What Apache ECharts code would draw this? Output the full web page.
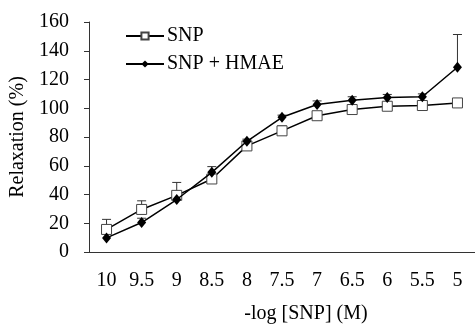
<!DOCTYPE html>
<html>
<head>
<meta charset="utf-8">
<script src="https://cdn.jsdelivr.net/npm/echarts@6/dist/echarts.min.js"></script>
<style>
  html, body { margin: 0; padding: 0; background: #fff; }
  #chart { width: 475px; height: 329px; }
</style>
</head>
<body>
<div id="chart"></div>
<script>
// -log[SNP] categories and mean relaxation (%) with upper SEM
const categories = ['10', '9.5', '9', '8.5', '8', '7.5', '7', '6.5', '6', '5.5', '5'];
const snp = [15.7, 29.6, 39.4, 50.8, 73.8, 84.3, 94.8, 99.1, 101.4, 101.9, 103.7];
const snpErr = [7, 6, 9, 0, 0, 3.4, 2, 3, 2.5, 0, 0];
const snpHmae = [9.8, 20.5, 36.5, 55.4, 77.0, 93.7, 102.6, 105.5, 107.4, 108, 128.5];
const snpHmaeErr = [0, 3, 0, 4, 1.5, 1.5, 2.5, 2.5, 2.2, 2, 22.8];

const font = 'Liberation Serif';
const ink = '#000';

function errorSeries(name, vals, errs) {
  return {
    type: 'custom',
    name: name + ' err',
    silent: true,
    z: 1,
    data: vals.map((v, i) => [i, v, v + errs[i]]),
    renderItem: function (params, api) {
      if (api.value(2) <= api.value(1)) return null;
      const lo = api.coord([api.value(0), api.value(1)]);
      const hi = api.coord([api.value(0), api.value(2)]);
      const style = { stroke: '#333', lineWidth: 1 };
      return {
        type: 'group',
        children: [
          { type: 'line', shape: { x1: lo[0], y1: lo[1], x2: hi[0], y2: hi[1] }, style: style },
          { type: 'line', shape: { x1: hi[0] - 4.5, y1: hi[1], x2: hi[0] + 4.5, y2: hi[1] }, style: style }
        ]
      };
    }
  };
}

const chart = echarts.init(document.getElementById('chart'));
chart.setOption({
  animation: false,
  backgroundColor: '#fff',
  textStyle: { fontFamily: font, color: ink },
  grid: { left: 89, right: 0, top: 22, bottom: 73 },
  legend: {
    orient: 'vertical',
    left: 125,
    top: 26,
    padding: 0,
    itemWidth: 38,
    itemHeight: 9,
    itemGap: 8,
    data: ['SNP', 'SNP + HMAE'],
    textStyle: { fontFamily: font, fontSize: 20, color: ink, padding: [0, 0, 0, -2] }
  },
  xAxis: {
    type: 'category',
    data: categories,
    boundaryGap: true,
    name: '-log [SNP] (M)',
    nameLocation: 'middle',
    nameGap: 52,
    nameTextStyle: { fontFamily: font, fontSize: 20, color: ink, padding: [0, 0, 0, 48] },
    axisLine: { lineStyle: { color: '#333', width: 1 } },
    axisTick: { inside: true, length: 5, lineStyle: { color: '#333' } },
    axisLabel: { fontFamily: font, fontSize: 20, color: ink, margin: 19 },
    splitLine: { show: false }
  },
  yAxis: {
    type: 'value',
    min: 0,
    max: 160,
    interval: 20,
    name: 'Relaxation (%)',
    nameLocation: 'middle',
    nameGap: 58,
    nameTextStyle: { fontFamily: font, fontSize: 20, color: ink },
    axisLine: { show: true, lineStyle: { color: '#333', width: 1 } },
    axisTick: { show: true, length: 5, lineStyle: { color: '#333' } },
    axisLabel: { fontFamily: font, fontSize: 20, color: ink, margin: 20 },
    splitLine: { show: false }
  },
  series: [
    errorSeries('SNP', snp, snpErr),
    errorSeries('SNP + HMAE', snpHmae, snpHmaeErr),
    {
      name: 'SNP',
      type: 'line',
      data: snp,
      z: 3,
      symbol: 'rect',
      symbolSize: 10,
      lineStyle: { color: ink, width: 1.5 },
      itemStyle: { color: '#fff', borderColor: '#444', borderWidth: 1 }
    },
    {
      name: 'SNP + HMAE',
      type: 'line',
      data: snpHmae,
      z: 4,
      symbol: 'diamond',
      symbolSize: [9, 11],
      lineStyle: { color: ink, width: 1.5 },
      itemStyle: { color: ink }
    }
  ]
});
</script>
</body>
</html>
